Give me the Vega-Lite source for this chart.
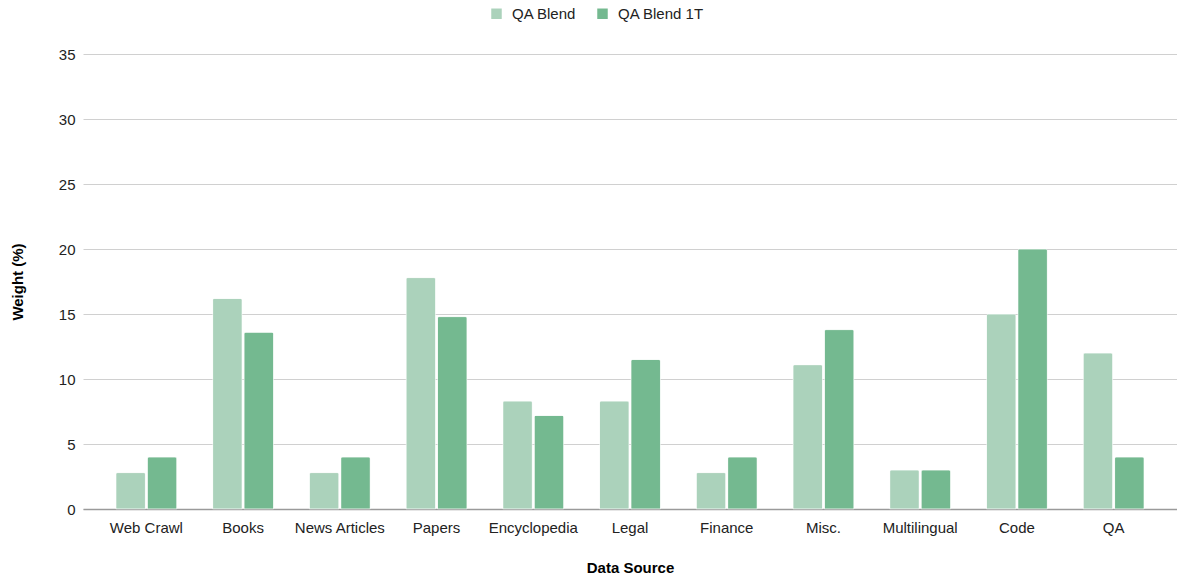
{
  "$schema": "https://vega.github.io/schema/vega-lite/v6.json",
  "width": 1094,
  "height": 455,
  "autosize": {"type": "none"},
  "padding": {"left": 83, "top": 54, "right": 0, "bottom": 67},
  "background": "white",
  "config": {
    "view": {"stroke": null},
    "font": "Liberation Sans",
    "axis": {"labelFont": "Liberation Sans", "titleFont": "Liberation Sans", "labelColor": "#222222", "titleColor": "#000000"},
    "legend": {"labelFont": "Liberation Sans"}
  },
  "data": {
    "values": [
      {"source": "Web Crawl", "blend": "QA Blend", "weight": 2.8},
      {"source": "Web Crawl", "blend": "QA Blend 1T", "weight": 4.0},
      {"source": "Books", "blend": "QA Blend", "weight": 16.2},
      {"source": "Books", "blend": "QA Blend 1T", "weight": 13.6},
      {"source": "News Articles", "blend": "QA Blend", "weight": 2.8},
      {"source": "News Articles", "blend": "QA Blend 1T", "weight": 4.0},
      {"source": "Papers", "blend": "QA Blend", "weight": 17.8},
      {"source": "Papers", "blend": "QA Blend 1T", "weight": 14.8},
      {"source": "Encyclopedia", "blend": "QA Blend", "weight": 8.3},
      {"source": "Encyclopedia", "blend": "QA Blend 1T", "weight": 7.2},
      {"source": "Legal", "blend": "QA Blend", "weight": 8.3},
      {"source": "Legal", "blend": "QA Blend 1T", "weight": 11.5},
      {"source": "Finance", "blend": "QA Blend", "weight": 2.8},
      {"source": "Finance", "blend": "QA Blend 1T", "weight": 4.0},
      {"source": "Misc.", "blend": "QA Blend", "weight": 11.1},
      {"source": "Misc.", "blend": "QA Blend 1T", "weight": 13.8},
      {"source": "Multilingual", "blend": "QA Blend", "weight": 3.0},
      {"source": "Multilingual", "blend": "QA Blend 1T", "weight": 3.0},
      {"source": "Code", "blend": "QA Blend", "weight": 15.0},
      {"source": "Code", "blend": "QA Blend 1T", "weight": 20.0},
      {"source": "QA", "blend": "QA Blend", "weight": 12.0},
      {"source": "QA", "blend": "QA Blend 1T", "weight": 4.0}
    ]
  },
  "mark": {"type": "bar", "cornerRadiusTopLeft": 2, "cornerRadiusTopRight": 2, "stroke": "#ffffff", "strokeOpacity": 0.45, "strokeWidth": 1},
  "encoding": {
    "x": {
      "field": "source", "type": "nominal", "sort": null,
      "scale": {"paddingInner": 0.37, "paddingOuter": 0.34},
      "axis": {
        "title": "Data Source", "titleFontSize": 15, "titleFontWeight": "bold", "titlePadding": 25,
        "labelAngle": 0, "labelFontSize": 15, "labelPadding": 11, "ticks": false,
        "domainColor": "#9a9a9a", "domainWidth": 1.5, "grid": false
      }
    },
    "xOffset": {"field": "blend", "type": "nominal", "scale": {"paddingInner": 0.06}},
    "y": {
      "field": "weight", "type": "quantitative",
      "scale": {"domain": [0, 35]},
      "axis": {
        "title": "Weight (%)", "titleFontSize": 15, "titleFontWeight": "bold", "titlePadding": 33,
        "values": [0, 5, 10, 15, 20, 25, 30, 35],
        "labelFontSize": 15, "labelPadding": 8, "ticks": false, "domain": false,
        "gridColor": "#d0d0d0", "gridWidth": 1
      }
    },
    "color": {
      "field": "blend", "type": "nominal",
      "scale": {"domain": ["QA Blend", "QA Blend 1T"], "range": ["#abd2bb", "#74b990"]},
      "legend": {
        "title": null, "orient": "none", "legendX": 406, "legendY": -48, "direction": "horizontal",
        "symbolType": "square", "symbolSize": 110, "symbolStrokeWidth": 0, "labelOffset": 8,
        "labelFontSize": 15, "labelColor": "#222222", "columnPadding": 18
      }
    }
  }
}
